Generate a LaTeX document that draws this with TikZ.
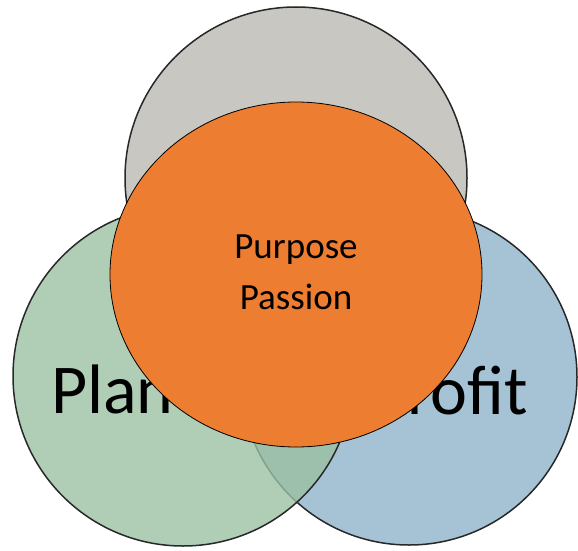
\documentclass[tikz,border=0pt]{standalone}
\usepackage{fontspec}
\setmainfont{Carlito}
\usetikzlibrary{shapes.geometric}
\definecolor{cgray}{RGB}{200,199,194}
\definecolor{corange}{RGB}{237,125,49}
\definecolor{cgreen}{RGB}{156,192,162}
\definecolor{cblue}{RGB}{165,195,213}
\definecolor{cedge}{RGB}{40,40,40}
\begin{document}
\begin{tikzpicture}[x=1pt,y=-1pt,
  bigcircle/.style={circle, draw=cedge, line width=1.5pt, inner sep=0pt, outer sep=0pt},
  bigword/.style={font=\fontsize{70}{80}\selectfont, inner sep=0pt, text=black},
  centreword/.style={font=\fontsize{37}{47}\selectfont, align=center, inner sep=0pt, text=black}]
\useasboundingbox (0,0) rectangle (578,551);
\node[bigcircle, fill=cgray, minimum size=342pt] (people) at (296,178) {};
\node[bigcircle, fill=cblue, minimum size=336pt] (profitc) at (409,377) {};
\node[bigcircle, fill=cgreen, fill opacity=0.8, minimum size=340pt] (planetc) at (183,376) {};
\node[bigword, anchor=base west] (planet) at (51,413) {Planet};
\node[bigword, anchor=base east] (profit) at (528,414) {Profit};
\node[ellipse, draw=black, line width=0.8pt, fill=corange, minimum width=372pt, minimum height=345pt, inner sep=0pt, outer sep=0pt] (core) at (296,274.5) {};
\node[centreword] (purpose) at (296,250) {Purpose};
\node[centreword] (passion) at (296,297) {Passion};
\end{tikzpicture}
\end{document}
